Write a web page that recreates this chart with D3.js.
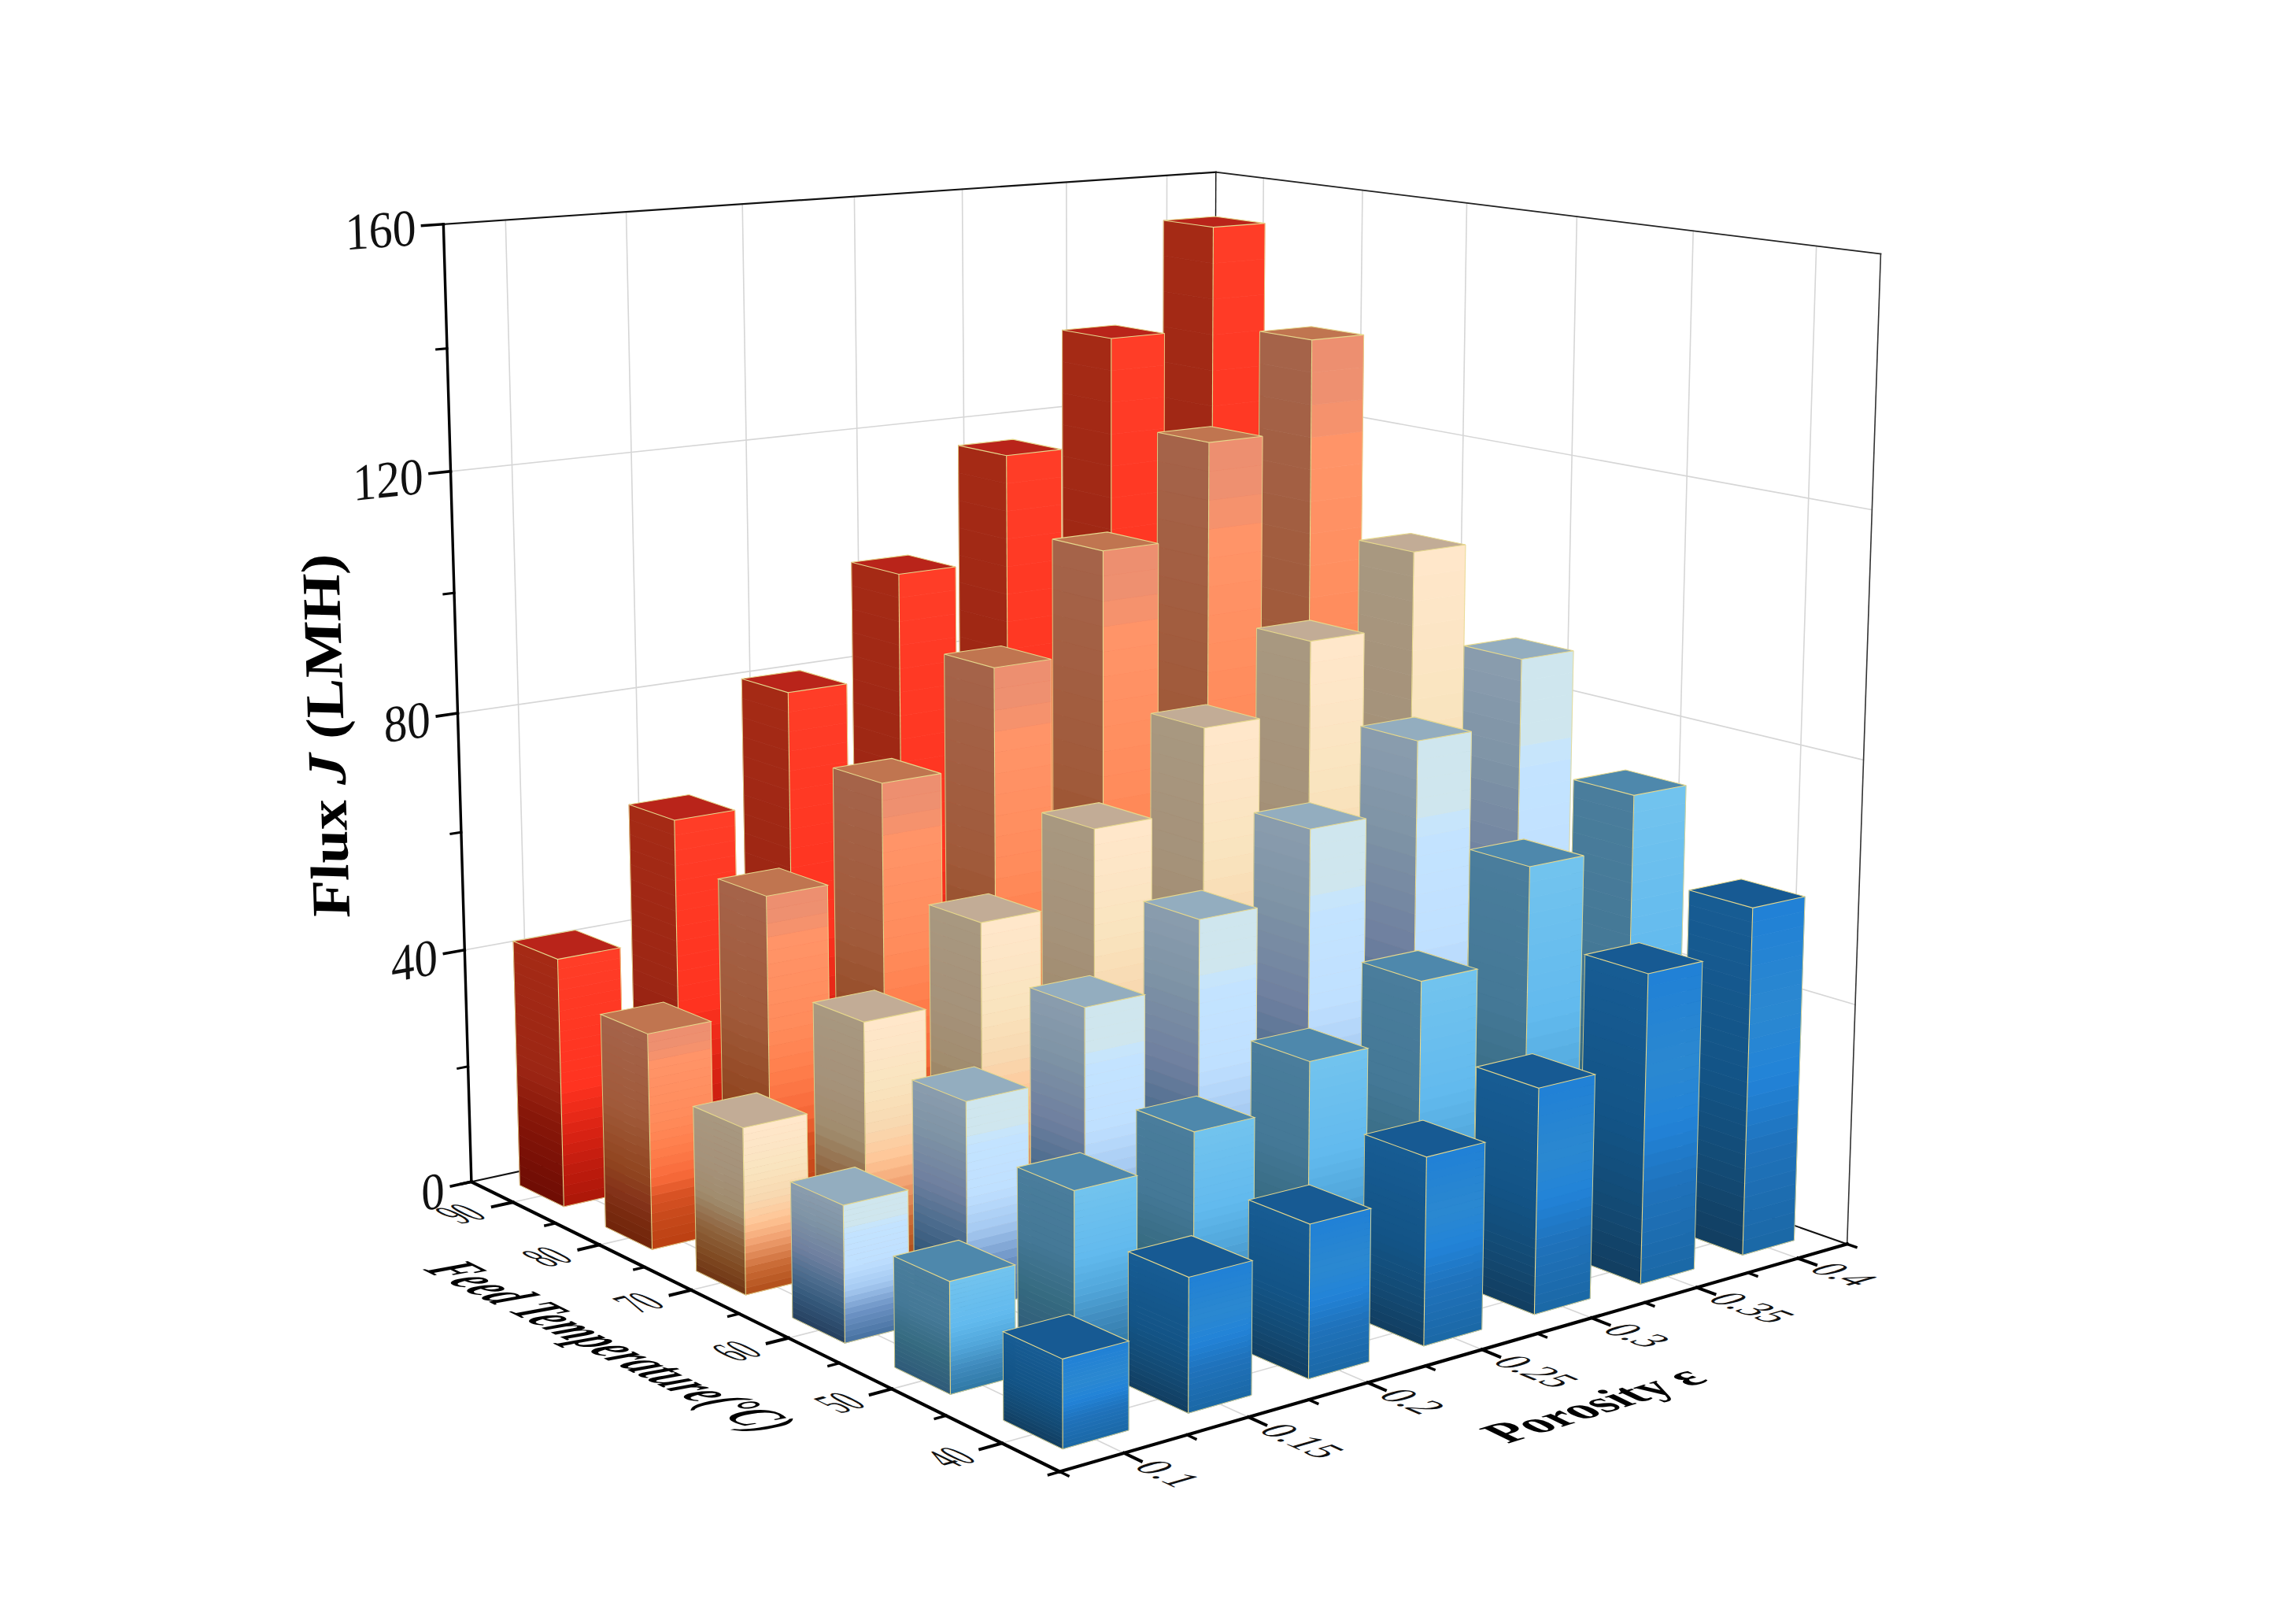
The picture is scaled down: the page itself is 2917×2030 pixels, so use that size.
<!DOCTYPE html><html><head><meta charset="utf-8"><script src="https://cdn.jsdelivr.net/npm/d3@7"></script></head><body style="margin:0;background:#fff"><svg id="c" width="2917" height="2030" style="display:block"></svg><script>
// ---------- data ----------
const porosity=[0.1,0.15,0.2,0.25,0.3,0.35,0.4];
const temps=[90,80,70,60,50,40];
const flux90=[42,61.9,80.5,98.1,116.3,134.8,152.8];
const flux80=[35.7,54.6,70,86.4,103.6,119.9,135.7];
const flux70=[27,39.9,52.3,64.3,78,89.8,102.5];
const flux60=[21.7,33.6,44.5,54.9,66.2,77.6,88.4];
const flux50=[17.3,26.5,31.2,38.1,47,62,70.4];
const flux40=[13.4,20.6,23.9,29.7,36.2,50.4,57.3];
const fluxByRow=[flux90,flux80,flux70,flux60,flux50,flux40];
const zMajor=[0,40,80,120,160], zMinor=[20,60,100,140];
const porosityLabels=['0.1','0.15','0.2','0.25','0.3','0.35','0.4'];
const tempLabels=['90','80','70','60','50','40'];
const zLabels=['0','40','80','120','160'];
// ---------- camera: projective map from the unit cube to the page (kilopixels) ----------
const P=[1.36772,-0.62915,-0.07093,1.34635,-0.04168,-0.07171,-1.47108,1.86951,0.15656,0.19756,-0.05037,1];
const proj=(u,v,w)=>{const d=P[8]*u+P[9]*v+P[10]*w+P[11];return[1000*(P[0]*u+P[1]*v+P[2]*w+P[3])/d,1000*(P[4]*u+P[5]*v+P[6]*w+P[7])/d];};
// ---------- palette: stops along each bar's own height ----------
const stops=[
 {f:[0,.15,.3,.48,1],r:['#ab1708','#c01c0e','#dc2414','#ff3320','#ff3d27'],l:[0,.15,.3,.5,1],lc:['#6e0c04','#7a1006','#861608','#9c2614','#a52a15'],top:'#b9241a'},
 {f:[0,.12,.23,.32,.45,.6,.86,.92,1],r:['#bb3f12','#c5481a','#d85224','#f86a3a','#ff7e4c','#ff8c5c','#ff9468','#ee9070','#ec8e70'],l:[0,.1,.2,.32,.6,1],lc:['#70240a','#782a0e','#85331a','#90441f','#a05a3a','#a5644a'],top:'#c07550'},
 {f:[0,.14,.3,.42,.55,.72,1],r:['#b04e1a','#c96a35','#f0a070','#ffc596','#f8d8b0','#f9e4bf','#ffe7cb'],l:[0,.14,.3,.5,.7,1],lc:['#6f3414','#7f4a22','#8e623c','#a08c6e','#a5927a','#a89880'],top:'#c2ac96'},
 {f:[0,.2,.38,.55,.81,.82,1],r:['#46709f','#6c92c4','#a6caf2','#bfe0ff','#c4e4ff','#cfe6ee','#cfe6ee'],l:[0,.2,.38,.55,.8,1],lc:['#263f5f','#34587a','#4f6e90','#6f80a0','#7f94a6','#8a9dae'],top:'#93adbf'},
 {f:[0,.2,.4,.6,1],r:['#2f78a4','#3f8abc','#52a8dc','#62baee','#72c4ee'],l:[0,.3,.6,1],lc:['#2f5a78','#356a80','#447896','#4a7d9c'],top:'#4e88ac'},
 {f:[0,.3,.5,.7,1],r:['#1b68a6','#1f72bb','#2283d8','#2b88d0','#2080d6'],l:[0,.25,.5,1],lc:['#123e60','#134b76','#135486','#175c94'],top:'#175a93'}];
// ---------- scales ----------
const xS=d3.scaleLinear().domain([0.075,0.425]).range([0,1]);
const yS=d3.scaleLinear().domain([35,95]).range([0,1]);
const zS=d3.scaleLinear().domain([0,160]).range([0,1]);
const du=0.26/7,dv=0.26/6,BANDS=24;
const svg=d3.select('#c');
const line=(g,a,b,col,w)=>{const p=proj(...a),q=proj(...b);g.append('line').attr('x1',p[0]).attr('y1',p[1]).attr('x2',q[0]).attr('y2',q[1]).attr('stroke',col).attr('stroke-width',w).attr('stroke-linecap','square');};
// ---------- walls & floor ----------
const grid=svg.append('g');const GC='#d6d6d6';
porosity.forEach(p=>{const u=xS(p);line(grid,[u,1,1],[u,1,0],GC,1.6);line(grid,[u,1,0],[u,0,0],GC,1.6);});
temps.forEach(t=>{const v=yS(t);line(grid,[1,v,1],[1,v,0],GC,1.6);line(grid,[1,v,0],[0,v,0],GC,1.6);});
zMajor.slice(1,4).forEach(z=>{const w=zS(z);line(grid,[0,1,w],[1,1,w],GC,1.6);line(grid,[1,1,w],[1,0,w],GC,1.6);});
const frame=svg.append('g');
line(frame,[0,1,1],[1,1,1],'#111',2.2);line(frame,[1,1,1],[1,0,1],'#222',1.8);line(frame,[1,0,1],[1,0,0],'#333',1.6);line(frame,[1,1,1],[1,1,0],'#111',1.4);
line(frame,[0,1,0],[1,1,0],'#111',2);line(frame,[1,1,0],[1,0,0],'#111',2);
// ---------- bars, back to front ----------
const bars=[];temps.forEach((t,i)=>porosity.slice().reverse().forEach(p=>bars.push({t,p,i,h:fluxByRow[i][porosity.indexOf(p)]})));
const pts=a=>a.map(q=>proj(...q).map(n=>n.toFixed(2)).join(',')).join(' ');
const EDGE='#e6d88c';
svg.append('g').selectAll('g').data(bars).join('g').each(function(d){
 const g=d3.select(this),u0=xS(d.p)-du,u1=xS(d.p)+du,v0=yS(d.t)-dv,v1=yS(d.t)+dv,W=zS(d.h),s=stops[d.i];
 const cR=d3.scaleLinear().domain(s.f).range(s.r).clamp(true),cL=d3.scaleLinear().domain(s.l).range(s.lc).clamp(true);
 d3.range(BANDS).forEach(k=>{const a=W*k/BANDS,b=W*(k+1)/BANDS,m=(k+.5)/BANDS;
  g.append('polygon').attr('points',pts([[u0,v0,a],[u1,v0,a],[u1,v0,b],[u0,v0,b]])).attr('fill',cR(m)).attr('stroke',cR(m)).attr('stroke-width',.7);
  g.append('polygon').attr('points',pts([[u0,v0,a],[u0,v1,a],[u0,v1,b],[u0,v0,b]])).attr('fill',cL(m)).attr('stroke',cL(m)).attr('stroke-width',.7);
 });
 g.append('polygon').attr('points',pts([[u0,v0,W],[u1,v0,W],[u1,v1,W],[u0,v1,W]])).attr('fill',s.top).attr('stroke',EDGE).attr('stroke-width',1.1);
 g.append('polyline').attr('points',pts([[u0,v1,W],[u0,v1,0],[u0,v0,0],[u1,v0,0],[u1,v0,W]])).attr('fill','none').attr('stroke',EDGE).attr('stroke-width',1).attr('stroke-opacity',.85);
 g.append('polyline').attr('points',pts([[u0,v0,0],[u0,v0,W]])).attr('fill','none').attr('stroke',EDGE).attr('stroke-width',1.1);
});
// ---------- axes ----------
const ax=svg.append('g');
line(ax,[0,0,0],[0,1,0],'#000',4.2);line(ax,[0,0,0],[1,0,0],'#000',4.2);line(ax,[0,1,0],[0,1,1],'#000',3.4);
const TU=0.024,TV=0.024;
porosity.forEach(p=>line(ax,[xS(p),0,0],[xS(p),-TV,0],'#000',4));
d3.range(8).map(i=>0.075+i*0.05).forEach(p=>line(ax,[xS(p),0,0],[xS(p),-TV/2,0],'#000',3.4));
temps.forEach(t=>line(ax,[0,yS(t),0],[-TU,yS(t),0],'#000',4));
d3.range(7).map(i=>35+i*10).forEach(t=>line(ax,[0,yS(t),0],[-TU/2,yS(t),0],'#000',3.4));
zMajor.forEach(z=>line(ax,[0,1,zS(z)],[-TU,1,zS(z)],'#000',3.6));
zMinor.forEach(z=>line(ax,[0,1,zS(z)],[-TU/2,1,zS(z)],'#000',3));
// ---------- text lying in the planes of the cube ----------
const FONT='"Liberation Serif","Times New Roman",serif';
const unit=(a,b)=>{const p=proj(...a),q=proj(...b),dx=q[0]-p[0],dy=q[1]-p[1],l=Math.hypot(dx,dy);return[dx/l,dy/l];};
function label(txt,o,e1,e2,a,h,offA,offH,anchor){
 const A=unit(o,e1),H=unit(o,e2),O=proj(...o);
 const x=O[0]+A[0]*offA+H[0]*offH,y=O[1]+A[1]*offA+H[1]*offH;
 svg.append('text').attr('transform',`matrix(${A[0]*a/100},${A[1]*a/100},${-H[0]*h/100},${-H[1]*h/100},${x},${y})`).attr('font-family',FONT).attr('font-size',100).attr('text-anchor',anchor).attr('fill','#111').text(txt);
}
porosity.forEach((p,i)=>{const o=[xS(p),0,0];label(porosityLabels[i],o,[xS(p),-.1,0],[xS(p)+.1,0,0],50,56,30,-18,'start');});
temps.forEach((t,i)=>{const o=[0,yS(t),0];const C=proj(...o),A=unit(o,[-.1,yS(t),0]);
 const U=unit(o,[.1,yS(t),0]),V=unit(o,[0,yS(t)+.1,0]),ctr=[C[0]+A[0]*68,C[1]+A[1]*68];
 const x=ctr[0]-V[0]*20,y=ctr[1]-V[1]*20;
 svg.append('text').attr('transform',`matrix(${U[0]*.38},${U[1]*.38},${-V[0]*.62},${-V[1]*.62},${x},${y})`).attr('font-family',FONT).attr('font-size',100).attr('text-anchor','middle').attr('fill','#111').text(tempLabels[i]);});
zMajor.forEach((z,i)=>{const o=[0,1,zS(z)];label(zLabels[i],o,[.1,1,zS(z)],[0,1,zS(z)+.1],60,66,-35,-24,'end');});
const title=(m,style)=>svg.append('text').attr('transform',`matrix(${m.join(',')})`).attr('font-family',FONT).attr('font-size',100).attr('font-weight','bold').attr('font-style',style||'normal').attr('text-anchor','middle').attr('fill','#000');
title([.46,.225,-.80,.20,750,1717],'italic').text('Feed Temperature(°C)');
title([.61,-.19,.58,.28,2044,1794]).text('Porosity ε');
const zt=title([-.024,-.77,.69,.02,437,935]);
zt.append('tspan').text('Flux ');zt.append('tspan').attr('font-style','italic').text('J');zt.append('tspan').text(' (LMH)');
</script></body></html>
